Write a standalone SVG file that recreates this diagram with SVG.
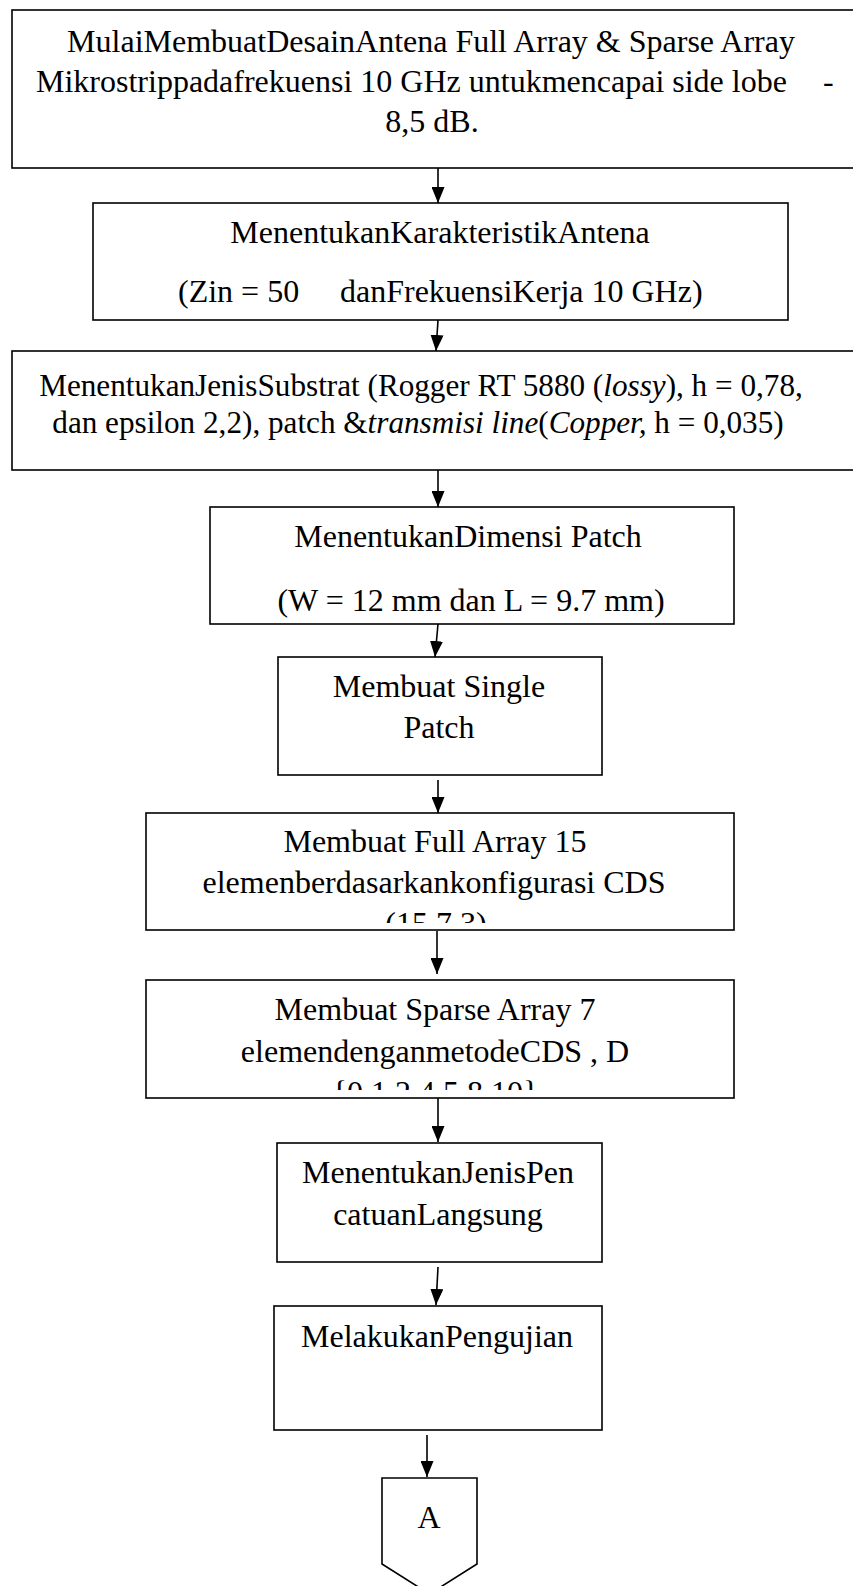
<svg xmlns="http://www.w3.org/2000/svg" width="853" height="1586" viewBox="0 0 853 1586">
<style>
.box{fill:#fff;stroke:#000;stroke-width:1.6}
.t{font-family:"Liberation Serif","Times New Roman",serif;font-size:32px;fill:#000}
.s{font-size:31.2px}
.m{text-anchor:middle}
.i{font-style:italic}
.c{stroke:#000;stroke-width:1.6;fill:none;marker-end:url(#ah)}
</style>
<defs>
<marker id="ah" markerWidth="16" markerHeight="13" refX="16" refY="6.5" orient="auto" markerUnits="userSpaceOnUse">
<path d="M0,0 L16,6.5 L0,13 Z" fill="#000"/>
</marker>
<clipPath id="clip6"><rect x="146" y="813" width="588" height="110"/></clipPath>
<clipPath id="clip7"><rect x="146" y="980" width="588" height="110"/></clipPath>
</defs>
<rect width="853" height="1586" fill="#fff"/>

<g id="connectors">
<line class="c" x1="438" y1="168" x2="438" y2="203"/>
<line class="c" x1="438" y1="320" x2="436" y2="351"/>
<line class="c" x1="438" y1="470" x2="438" y2="507"/>
<line class="c" x1="438" y1="624" x2="435" y2="657"/>
<line class="c" x1="438" y1="780" x2="438" y2="813"/>
<line class="c" x1="437" y1="931" x2="437" y2="974"/>
<line class="c" x1="438" y1="1098" x2="438" y2="1142"/>
<line class="c" x1="438" y1="1267" x2="436" y2="1305"/>
<line class="c" x1="427" y1="1435" x2="427" y2="1477"/>
</g>

<g id="n1">
<rect class="box" x="12" y="10" width="900" height="158"/>
<text class="t m" x="431" y="52">MulaiMembuatDesainAntena Full Array &amp; Sparse Array</text>
<text class="t" x="36" y="92">Mikrostrippadafrekuensi 10 GHz untukmencapai side lobe</text>
<text class="t" x="823" y="92">-</text>
<text class="t m" x="432" y="132">8,5 dB.</text>
</g>

<g id="n2">
<rect class="box" x="93" y="203" width="695" height="117"/>
<text class="t m" x="440" y="243">MenentukanKarakteristikAntena</text>
<text class="t" x="178" y="302">(Zin = 50</text>
<text class="t" x="340" y="302">danFrekuensiKerja 10 GHz)</text>
</g>

<g id="n3">
<rect class="box" x="12" y="351" width="900" height="119"/>
<text class="t s m" x="421" y="396">MenentukanJenisSubstrat (Rogger RT 5880 (<tspan class="i">lossy</tspan>), h = 0,78,</text>
<text class="t s m" x="418" y="433">dan epsilon 2,2), patch &amp;<tspan class="i">transmisi line</tspan>(<tspan class="i">Copper,</tspan> h = 0,035)</text>
</g>

<g id="n4">
<rect class="box" x="210" y="507" width="524" height="117"/>
<text class="t m" x="468" y="547">MenentukanDimensi Patch</text>
<text class="t m" x="471" y="611">(W = 12 mm dan L = 9.7 mm)</text>
</g>

<g id="n5">
<rect class="box" x="278" y="657" width="324" height="118"/>
<text class="t m" x="439" y="697">Membuat Single</text>
<text class="t m" x="439" y="738">Patch</text>
</g>

<g id="n6">
<rect class="box" x="146" y="813" width="588" height="117"/>
<text class="t m" x="435" y="852">Membuat Full Array 15</text>
<text class="t m" x="434" y="893">elemenberdasarkankonfigurasi CDS</text>
<text class="t m" x="436" y="934" clip-path="url(#clip6)">(15,7,3)</text>
</g>

<g id="n7">
<rect class="box" x="146" y="980" width="588" height="118"/>
<text class="t m" x="435" y="1020">Membuat Sparse Array 7</text>
<text class="t m" x="435" y="1062">elemendenganmetodeCDS , D</text>
<text class="t m" x="435" y="1103" clip-path="url(#clip7)">{0,1,2,4,5,8,10}</text>
</g>

<g id="n8">
<rect class="box" x="277" y="1143" width="325" height="119"/>
<text class="t m" x="438" y="1183">MenentukanJenisPen</text>
<text class="t m" x="438" y="1225">catuanLangsung</text>
</g>

<g id="n9">
<rect class="box" x="274" y="1306" width="328" height="124"/>
<text class="t m" x="437" y="1347">MelakukanPengujian</text>
</g>

<g id="nA">
<path class="box" d="M382,1478 L477,1478 L477,1564 L429.5,1594 L382,1564 Z"/>
<text class="t m" x="429" y="1528">A</text>
</g>
</svg>
